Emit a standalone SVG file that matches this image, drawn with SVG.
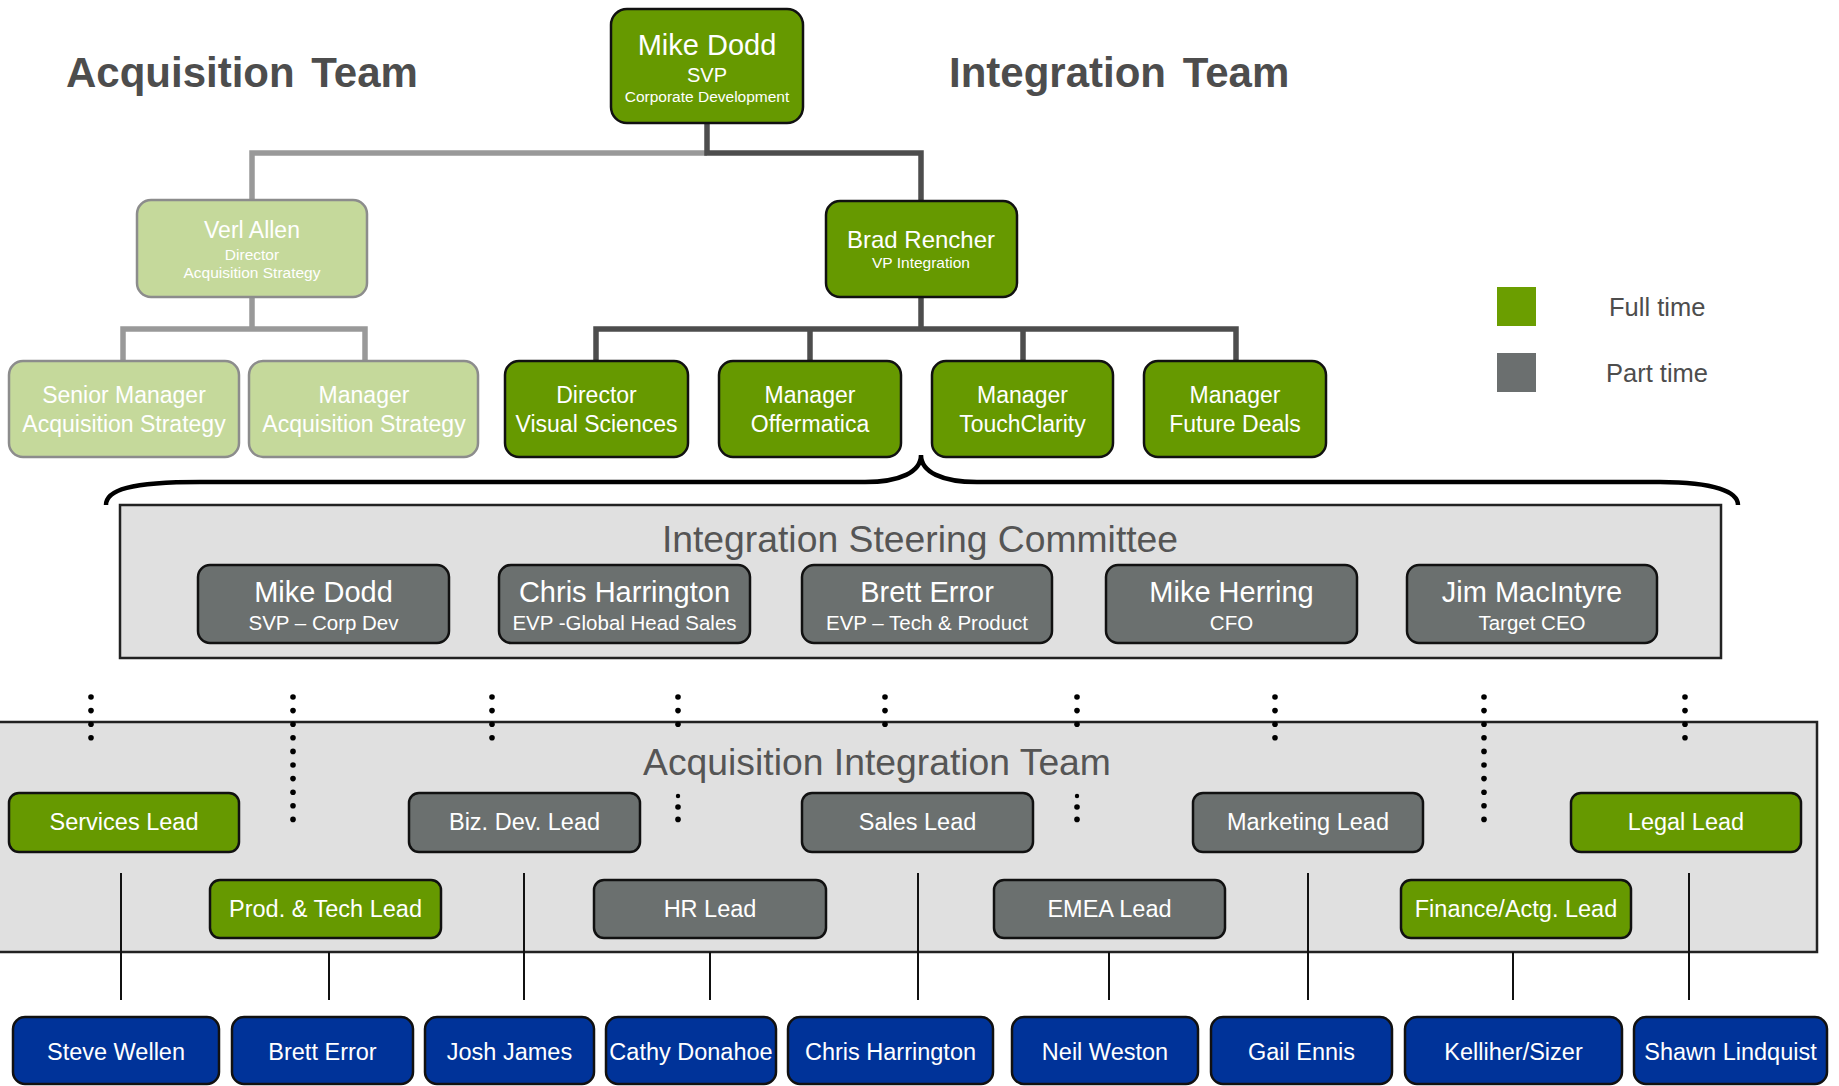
<svg xmlns="http://www.w3.org/2000/svg" width="1839" height="1086" viewBox="0 0 1839 1086">
  <style>
    text { font-family: "Liberation Sans", Arial, sans-serif; text-anchor: middle; fill: #ffffff; }
    .heading { font-size: 42px; font-weight: bold; fill: #4d4d4d; text-anchor: start; word-spacing: 5px; }
    .panel-title { font-size: 37.3px; fill: #555555; }
    .legend { font-size: 25.5px; fill: #4d4d4d; text-anchor: start; }
    .full { fill: #669900; stroke: #111111; stroke-width: 2.5; }
    .acq { fill: #c5d99b; stroke: #8c8c8c; stroke-width: 2.5; }
    .part { fill: #6b706f; stroke: #111111; stroke-width: 2.5; }
    .person { fill: #003399; stroke: #111111; stroke-width: 2.5; }
    .panel { fill: #e0e0e0; stroke: #222222; stroke-width: 2.5; }
    .t23 { font-size: 23px; }
    .t15 { font-size: 15.5px; }
    .lead { font-size: 23.5px; }
    .name { font-size: 29px; }
    .role { font-size: 20.5px; }
    .link-dark { stroke: #4d4d4d; stroke-width: 5.5; fill: none; }
    .link-light { stroke: #999999; stroke-width: 5.5; fill: none; }
    .thin { stroke: #111111; stroke-width: 2; fill: none; }
    .brace { stroke: #000000; stroke-width: 4.5; fill: none; }
    .dot { fill: #000000; }
  </style>

  <!-- headings -->
  <text class="heading" x="66" y="87">Acquisition Team</text>
  <text class="heading" x="949" y="87">Integration Team</text>

  <!-- legend -->
  <g id="legend">
    <rect x="1497" y="287" width="39" height="39" fill="#6b9e00"/>
    <rect x="1497" y="353" width="39" height="39" fill="#6b6f6f"/>
    <text class="legend" x="1609" y="316">Full time</text>
    <text class="legend" x="1606" y="382">Part time</text>
  </g>

  <!-- panels -->
  <rect id="steering-panel" class="panel" x="120" y="505" width="1601" height="153"/>
  <text class="panel-title" x="920" y="552">Integration Steering Committee</text>
  <rect id="integration-panel" class="panel" x="-5" y="722" width="1822" height="230"/>

  <!-- connectors -->
  <g id="connectors">
    <polyline class="link-light" points="252,200 252,153 707,153"/>
    <polyline class="link-dark" points="707,123 707,153 921,153 921,202"/>
    <line class="link-light" x1="252" y1="297" x2="252" y2="329"/>
    <polyline class="link-light" points="123,361 123,329 365,329 365,361"/>
    <line class="link-dark" x1="921" y1="297" x2="921" y2="329"/>
    <polyline class="link-dark" points="596,361 596,329 1236,329 1236,361"/>
    <line class="link-dark" x1="810" y1="329" x2="810" y2="361"/>
    <line class="link-dark" x1="1023" y1="329" x2="1023" y2="361"/>

    <path class="brace" d="M106 505 C106 490 130 482 200 482 L865 482 C900 482 921 472 921 455 C921 472 942 482 977 482 L1660 482 C1715 482 1738 492 1738 505"/>

    <!-- dotted links from the committee -->
    <g id="dots">
      <circle class="dot" cx="91" cy="697" r="2.8"/><circle class="dot" cx="91" cy="710.6" r="2.8"/><circle class="dot" cx="91" cy="724.2" r="2.8"/><circle class="dot" cx="91" cy="737.8" r="2.8"/>
      <circle class="dot" cx="293" cy="697" r="2.8"/><circle class="dot" cx="293" cy="710.6" r="2.8"/><circle class="dot" cx="293" cy="724.2" r="2.8"/><circle class="dot" cx="293" cy="737.8" r="2.8"/><circle class="dot" cx="293" cy="751.4" r="2.8"/><circle class="dot" cx="293" cy="765" r="2.8"/><circle class="dot" cx="293" cy="778.6" r="2.8"/><circle class="dot" cx="293" cy="792.2" r="2.8"/><circle class="dot" cx="293" cy="805.8" r="2.8"/><circle class="dot" cx="293" cy="819.4" r="2.8"/>
      <circle class="dot" cx="492" cy="697" r="2.8"/><circle class="dot" cx="492" cy="710.6" r="2.8"/><circle class="dot" cx="492" cy="724.2" r="2.8"/><circle class="dot" cx="492" cy="737.8" r="2.8"/>
      <circle class="dot" cx="678" cy="697" r="2.8"/><circle class="dot" cx="678" cy="710.6" r="2.8"/><circle class="dot" cx="678" cy="724.2" r="2.8"/><circle class="dot" cx="678" cy="796" r="2.2"/><circle class="dot" cx="678" cy="807" r="2.8"/><circle class="dot" cx="678" cy="819.4" r="2.8"/>
      <circle class="dot" cx="885" cy="697" r="2.8"/><circle class="dot" cx="885" cy="710.6" r="2.8"/><circle class="dot" cx="885" cy="724.2" r="2.8"/>
      <circle class="dot" cx="1077" cy="697" r="2.8"/><circle class="dot" cx="1077" cy="710.6" r="2.8"/><circle class="dot" cx="1077" cy="724.2" r="2.8"/><circle class="dot" cx="1077" cy="796" r="2.2"/><circle class="dot" cx="1077" cy="807" r="2.8"/><circle class="dot" cx="1077" cy="819.4" r="2.8"/>
      <circle class="dot" cx="1275" cy="697" r="2.8"/><circle class="dot" cx="1275" cy="710.6" r="2.8"/><circle class="dot" cx="1275" cy="724.2" r="2.8"/><circle class="dot" cx="1275" cy="737.8" r="2.8"/>
      <circle class="dot" cx="1484" cy="697" r="2.8"/><circle class="dot" cx="1484" cy="710.6" r="2.8"/><circle class="dot" cx="1484" cy="724.2" r="2.8"/><circle class="dot" cx="1484" cy="737.8" r="2.8"/><circle class="dot" cx="1484" cy="751.4" r="2.8"/><circle class="dot" cx="1484" cy="765" r="2.8"/><circle class="dot" cx="1484" cy="778.6" r="2.8"/><circle class="dot" cx="1484" cy="792.2" r="2.8"/><circle class="dot" cx="1484" cy="805.8" r="2.8"/><circle class="dot" cx="1484" cy="819.4" r="2.8"/>
      <circle class="dot" cx="1685" cy="697" r="2.8"/><circle class="dot" cx="1685" cy="710.6" r="2.8"/><circle class="dot" cx="1685" cy="724.2" r="2.8"/><circle class="dot" cx="1685" cy="737.8" r="2.8"/>
    </g>

    <!-- leads to people -->
    <line class="thin" x1="121" y1="873" x2="121" y2="1000"/>
    <line class="thin" x1="329" y1="952" x2="329" y2="1000"/>
    <line class="thin" x1="524" y1="873" x2="524" y2="1000"/>
    <line class="thin" x1="710" y1="952" x2="710" y2="1000"/>
    <line class="thin" x1="918" y1="873" x2="918" y2="1000"/>
    <line class="thin" x1="1109" y1="952" x2="1109" y2="1000"/>
    <line class="thin" x1="1308" y1="873" x2="1308" y2="1000"/>
    <line class="thin" x1="1513" y1="952" x2="1513" y2="1000"/>
    <line class="thin" x1="1689" y1="873" x2="1689" y2="1000"/>
  </g>

  <text class="panel-title" x="877" y="775">Acquisition Integration Team</text>

  <!-- leadership -->
  <g id="mike-dodd-svp">
    <rect class="full" x="611" y="9" width="192" height="114" rx="16"/>
    <text x="707" y="55" font-size="29">Mike Dodd</text>
    <text x="707" y="82" font-size="20">SVP</text>
    <text x="707" y="102" class="t15">Corporate Development</text>
  </g>
  <g id="verl-allen">
    <rect class="acq" x="137" y="200" width="230" height="97" rx="14"/>
    <text x="252" y="238" font-size="23">Verl Allen</text>
    <text x="252" y="260" class="t15">Director</text>
    <text x="252" y="278" class="t15">Acquisition Strategy</text>
  </g>
  <g id="brad-rencher">
    <rect class="full" x="826" y="201" width="191" height="96" rx="14"/>
    <text x="921" y="248" font-size="24">Brad Rencher</text>
    <text x="921" y="268" class="t15">VP Integration</text>
  </g>

  <!-- acquisition strategy staff -->
  <g id="senior-manager-acq">
    <rect class="acq" x="9" y="361" width="230" height="96" rx="14"/>
    <text x="124" y="403" class="t23">Senior Manager</text>
    <text x="124" y="432" class="t23">Acquisition Strategy</text>
  </g>
  <g id="manager-acq">
    <rect class="acq" x="249" y="361" width="229" height="96" rx="14"/>
    <text x="364" y="403" class="t23">Manager</text>
    <text x="364" y="432" class="t23">Acquisition Strategy</text>
  </g>

  <!-- integration managers -->
  <g id="director-visual-sciences">
    <rect class="full" x="505" y="361" width="183" height="96" rx="14"/>
    <text x="596.5" y="403" class="t23">Director</text>
    <text x="596.5" y="432" class="t23">Visual Sciences</text>
  </g>
  <g id="manager-offermatica">
    <rect class="full" x="719" y="361" width="182" height="96" rx="14"/>
    <text x="810" y="403" class="t23">Manager</text>
    <text x="810" y="432" class="t23">Offermatica</text>
  </g>
  <g id="manager-touchclarity">
    <rect class="full" x="932" y="361" width="181" height="96" rx="14"/>
    <text x="1022.5" y="403" class="t23">Manager</text>
    <text x="1022.5" y="432" class="t23">TouchClarity</text>
  </g>
  <g id="manager-future-deals">
    <rect class="full" x="1144" y="361" width="182" height="96" rx="14"/>
    <text x="1235" y="403" class="t23">Manager</text>
    <text x="1235" y="432" class="t23">Future Deals</text>
  </g>

  <!-- steering committee members -->
  <g id="sc-mike-dodd">
    <rect class="part" x="198" y="565" width="251" height="78" rx="12"/>
    <text x="323.5" y="602" class="name">Mike Dodd</text>
    <text x="323.5" y="630" class="role">SVP – Corp Dev</text>
  </g>
  <g id="sc-chris-harrington">
    <rect class="part" x="499" y="565" width="251" height="78" rx="12"/>
    <text x="624.5" y="602" class="name">Chris Harrington</text>
    <text x="624.5" y="630" class="role">EVP -Global Head Sales</text>
  </g>
  <g id="sc-brett-error">
    <rect class="part" x="802" y="565" width="250" height="78" rx="12"/>
    <text x="927" y="602" class="name">Brett Error</text>
    <text x="927" y="630" class="role">EVP – Tech &amp; Product</text>
  </g>
  <g id="sc-mike-herring">
    <rect class="part" x="1106" y="565" width="251" height="78" rx="12"/>
    <text x="1231.5" y="602" class="name">Mike Herring</text>
    <text x="1231.5" y="630" class="role">CFO</text>
  </g>
  <g id="sc-jim-macintyre">
    <rect class="part" x="1407" y="565" width="250" height="78" rx="12"/>
    <text x="1532" y="602" class="name">Jim MacIntyre</text>
    <text x="1532" y="630" class="role">Target CEO</text>
  </g>

  <!-- workstream leads -->
  <g id="services-lead">
    <rect class="full" x="9" y="793" width="230" height="59" rx="10"/>
    <text x="124" y="830" class="lead">Services Lead</text>
  </g>
  <g id="biz-dev-lead">
    <rect class="part" x="409" y="793" width="231" height="59" rx="10"/>
    <text x="524.5" y="830" class="lead">Biz. Dev. Lead</text>
  </g>
  <g id="sales-lead">
    <rect class="part" x="802" y="793" width="231" height="59" rx="10"/>
    <text x="917.5" y="830" class="lead">Sales Lead</text>
  </g>
  <g id="marketing-lead">
    <rect class="part" x="1193" y="793" width="230" height="59" rx="10"/>
    <text x="1308" y="830" class="lead">Marketing Lead</text>
  </g>
  <g id="legal-lead">
    <rect class="full" x="1571" y="793" width="230" height="59" rx="10"/>
    <text x="1686" y="830" class="lead">Legal Lead</text>
  </g>
  <g id="prod-tech-lead">
    <rect class="full" x="210" y="880" width="231" height="58" rx="10"/>
    <text x="325.5" y="917" class="lead">Prod. &amp; Tech Lead</text>
  </g>
  <g id="hr-lead">
    <rect class="part" x="594" y="880" width="232" height="58" rx="10"/>
    <text x="710" y="917" class="lead">HR Lead</text>
  </g>
  <g id="emea-lead">
    <rect class="part" x="994" y="880" width="231" height="58" rx="10"/>
    <text x="1109.5" y="917" class="lead">EMEA Lead</text>
  </g>
  <g id="finance-lead">
    <rect class="full" x="1401" y="880" width="230" height="58" rx="10"/>
    <text x="1516" y="917" class="lead">Finance/Actg. Lead</text>
  </g>

  <!-- people -->
  <g id="steve-wellen">
    <rect class="person" x="13" y="1017" width="206" height="67" rx="12"/>
    <text x="116" y="1060" class="lead">Steve Wellen</text>
  </g>
  <g id="brett-error">
    <rect class="person" x="232" y="1017" width="181" height="67" rx="12"/>
    <text x="322.5" y="1060" class="lead">Brett Error</text>
  </g>
  <g id="josh-james">
    <rect class="person" x="425" y="1017" width="169" height="67" rx="12"/>
    <text x="509.5" y="1060" class="lead">Josh James</text>
  </g>
  <g id="cathy-donahoe">
    <rect class="person" x="606" y="1017" width="170" height="67" rx="12"/>
    <text x="691" y="1060" class="lead">Cathy Donahoe</text>
  </g>
  <g id="chris-harrington">
    <rect class="person" x="788" y="1017" width="205" height="67" rx="12"/>
    <text x="890.5" y="1060" class="lead">Chris Harrington</text>
  </g>
  <g id="neil-weston">
    <rect class="person" x="1012" y="1017" width="186" height="67" rx="12"/>
    <text x="1105" y="1060" class="lead">Neil Weston</text>
  </g>
  <g id="gail-ennis">
    <rect class="person" x="1211" y="1017" width="181" height="67" rx="12"/>
    <text x="1301.5" y="1060" class="lead">Gail Ennis</text>
  </g>
  <g id="kelliher-sizer">
    <rect class="person" x="1405" y="1017" width="217" height="67" rx="12"/>
    <text x="1513.5" y="1060" class="lead">Kelliher/Sizer</text>
  </g>
  <g id="shawn-lindquist">
    <rect class="person" x="1634" y="1017" width="193" height="67" rx="12"/>
    <text x="1730.5" y="1060" class="lead">Shawn Lindquist</text>
  </g>
</svg>
